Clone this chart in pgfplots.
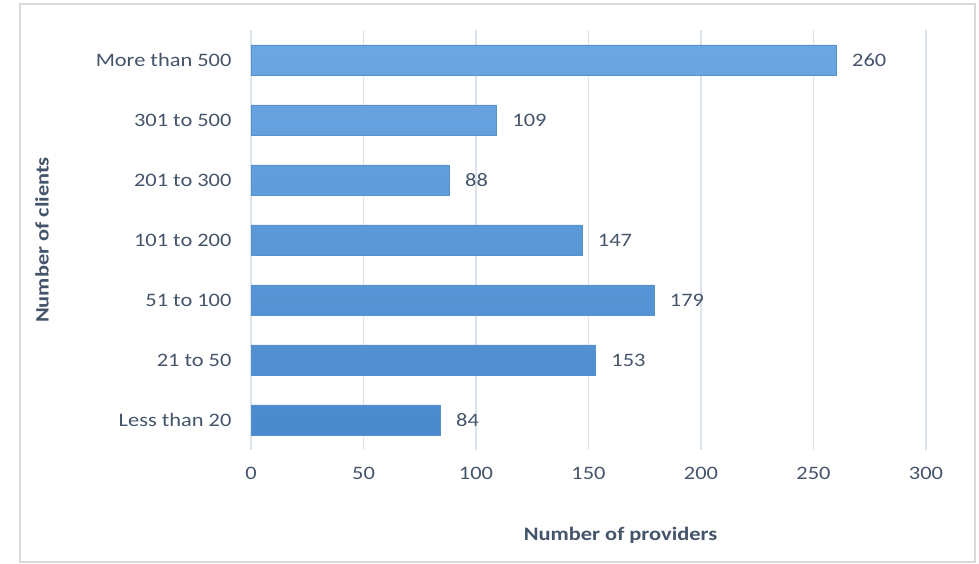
\documentclass[border=0pt]{standalone}
\usepackage{pgfplots}
\pgfplotsset{compat=1.18}
\usepackage{fontspec}
\setmainfont{Carlito}[FakeStretch=1.18]
\definecolor{txt}{HTML}{44546A}
\definecolor{gridc}{HTML}{DCE3EC}
\definecolor{bordc}{HTML}{D9D9D9}
\definecolor{bartop}{HTML}{6CA7E2}
\definecolor{barbot}{HTML}{4A89CD}
\definecolor{baredge}{HTML}{5590CF}
\begin{document}
\begin{tikzpicture}[x=1pt,y=1pt]
\path[use as bounding box] (0,0) rectangle (979,564);
\draw[color=bordc, line width=1.5pt] (20,2) rectangle (975,560);
\begin{axis}[
  at={(251pt,114pt)}, anchor=south west,
  scale only axis, width=675pt, height=420pt,
  xmin=0, xmax=300, ymin=-0.5, ymax=6.5,
  /pgf/number format/assume math mode=true,
  xtick={0,50,...,300},
  ytick={0,...,6},
  yticklabels={Less than 20,21 to 50,51 to 100,101 to 200,201 to 300,301 to 500,More than 500},
  axis line style={draw=none},
  major tick length=0pt,
  xmajorgrids, grid style={color=gridc, line width=1.2pt},
  tick label style={font=\fontsize{19}{22}\selectfont, text=txt},
  xticklabel style={yshift=-14pt},
  yticklabel style={xshift=-16pt},
  every axis x label/.style={at={(axis description cs:0.5,0)}, anchor=center, yshift=-85pt, xshift=32pt},
  every axis y label/.style={at={(axis description cs:0,0.5)}, anchor=center, xshift=-209pt, rotate=90},
  label style={font=\bfseries\fontsize{19}{22}\selectfont, text=txt},
  xlabel={Number of providers},
  ylabel={Number of clients},
  clip=false,
]
\addplot[xbar, bar width=30pt, top color=bartop, bottom color=barbot, draw=baredge,
  nodes near coords, nodes near coords align={horizontal},
  every node near coord/.append style={anchor=west, inner sep=0pt, xshift=16pt, font=\fontsize{19}{22}\selectfont, text=txt}]
  coordinates {(84,0) (153,1) (179,2) (147,3) (88,4) (109,5) (260,6)};
\end{axis}
\end{tikzpicture}
\end{document}
